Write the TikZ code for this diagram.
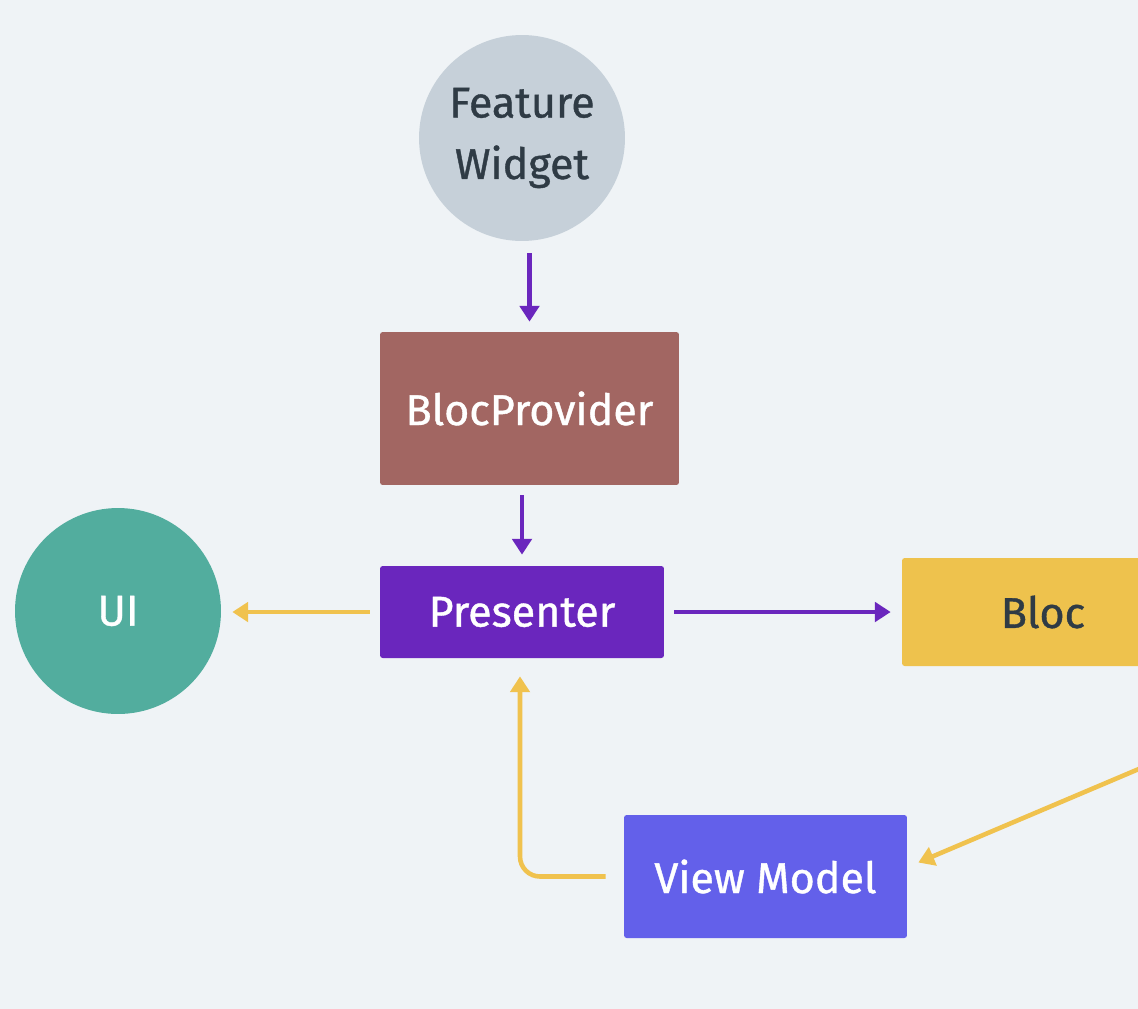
\documentclass[tikz,border=0pt]{standalone}
\usepackage{fontspec}
\setmainfont{Fira Sans}[UprightFeatures={FakeBold=0.9}]
\usetikzlibrary{arrows.meta}

\definecolor{bgcol}{HTML}{EFF3F6}
\definecolor{txtdark}{HTML}{2F3B45}
\definecolor{widgetcol}{HTML}{C6D0D9}
\definecolor{providercol}{HTML}{A26662}
\definecolor{presentercol}{HTML}{6A26BD}
\definecolor{uicol}{HTML}{52AD9E}
\definecolor{bloccol}{HTML}{EEC24D}
\definecolor{vmcol}{HTML}{6360EA}
\definecolor{yellowline}{HTML}{F0C24E}

\tikzset{
  boxnode/.style={rectangle, rounded corners=1.5pt, inner sep=0pt, align=center,
    font=\fontsize{24.5}{35}\selectfont},
  roundnode/.style={circle, inner sep=0pt, minimum size=4.12cm, align=center,
    font=\fontsize{24.5}{35}\selectfont},
  callflow/.style={draw=presentercol, line width=2.6pt, -{Triangle[length=9pt,width=11pt]}},
  dataflow/.style={draw=yellowline, line width=2.6pt, -{Triangle[length=9pt,width=11pt]}}
}

\begin{document}
\begin{tikzpicture}[x=0.02cm, y=-0.02cm]
  % Draw background
  \useasboundingbox (0,0) rectangle (1138,1008);
  \fill[bgcol] (-20,-20) rectangle (1158,1028);
  \clip (0,0) rectangle (1138,1008);

  % Draw nodes
  \node[roundnode, fill=widgetcol, text=txtdark] (widget) at (522,138) {Feature\\Widget};
  \node[boxnode, fill=providercol, text=white, minimum width=5.98cm, minimum height=3.06cm]
    (provider) at (529.5,408.5) {BlocProvider};
  \node[boxnode, fill=presentercol, text=white, minimum width=5.68cm, minimum height=1.84cm]
    (presenter) at (522,612) {Presenter};
  \node[roundnode, fill=uicol, text=white] (ui) at (118,611) {UI};
  \node[boxnode, fill=bloccol, text=txtdark, minimum width=5.64cm, minimum height=2.16cm]
    (bloc) at (1043,612) {Bloc};
  \node[boxnode, fill=vmcol, text=white, minimum width=5.66cm, minimum height=2.46cm]
    (vm) at (765.5,876.5) {View Model};

  % Draw connectors
  \draw[callflow, shorten <=0.24cm, shorten >=0.2cm] (provider.north |- widget.south) -- (provider.north);
  \draw[callflow, shorten <=0.2cm, shorten >=0.22cm] (presenter.north |- provider.south) -- (presenter.north);
  \draw[dataflow, shorten <=0.2cm, shorten >=0.22cm] (presenter.west) -- (presenter.west -| ui.east);
  \draw[callflow, shorten <=0.2cm, shorten >=0.22cm] (presenter.east) -- (bloc.west);

  % Bloc output runs off the right edge
  \coordinate (blocout) at (1160,760);
  \draw[dataflow] (blocout) -- ([xshift=0.22cm,yshift=0.28cm]vm.east);
  \draw[dataflow, rounded corners=0.4cm, shorten <=0.36cm, shorten >=0.36cm]
    (vm.west) -| ([xshift=-0.04cm]presenter.south);
\end{tikzpicture}
\end{document}
